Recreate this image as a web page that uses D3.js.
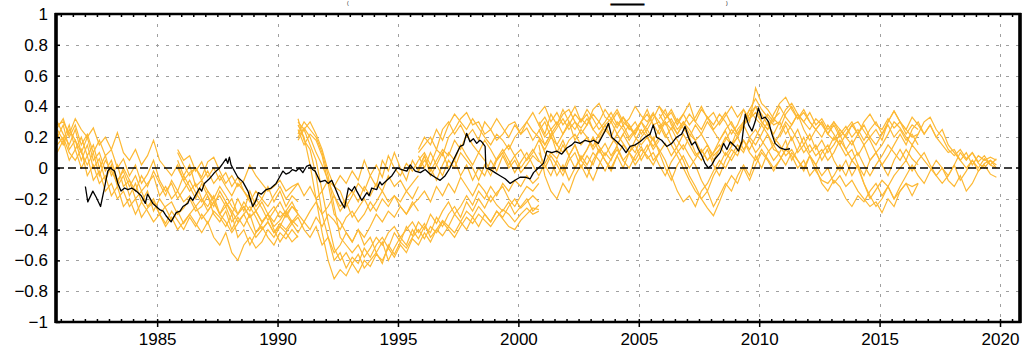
<!DOCTYPE html>
<html>
<head>
<meta charset="utf-8">
<script src="https://cdn.jsdelivr.net/npm/d3@7"></script>
<style>
  body { margin: 0; background: #fff; }
  svg { display: block; }
</style>
</head>
<body>
<svg id="chart" width="1024" height="352"></svg>
<script>
// ---------------- DATA ----------------
const xTicks = [1985, 1990, 1995, 2000, 2005, 2010, 2015, 2020];
const xTickLabels = ["1985", "1990", "1995", "2000", "2005", "2010", "2015", "2020"];
const yTicks = [-1, -0.8, -0.6, -0.4, -0.2, 0, 0.2, 0.4, 0.6, 0.8, 1];
const yTickLabels = ["\u22121", "\u22120.8", "\u22120.6", "\u22120.4", "\u22120.2", "0", "0.2", "0.4", "0.6", "0.8", "1"];

// observed index (black)
const obsTime = [1982.02,1982.12,1982.33,1982.47,1982.65,1982.81,1982.95,1983.05,1983.23,1983.37,1983.5,1983.65,1983.78,1983.95,1984.13,1984.34,1984.51,1984.6,1984.68,1984.82,1985.1,1985.25,1985.37,1985.58,1985.79,1985.95,1986.07,1986.27,1986.38,1986.48,1986.62,1986.76,1986.85,1986.96,1987.17,1987.28,1987.38,1987.59,1987.73,1987.86,1987.93,1988.0,1988.07,1988.14,1988.35,1988.56,1988.77,1988.97,1989.11,1989.2,1989.32,1989.53,1989.73,1989.94,1990.08,1990.22,1990.35,1990.49,1990.62,1990.77,1990.9,1991.05,1991.2,1991.35,1991.45,1991.56,1991.77,1991.97,1992.1,1992.25,1992.39,1992.6,1992.78,1992.94,1993.08,1993.2,1993.29,1993.5,1993.71,1993.8,1993.91,1994.12,1994.25,1994.33,1994.54,1994.75,1994.96,1995.16,1995.37,1995.51,1995.72,1995.93,1996.13,1996.34,1996.54,1996.75,1996.96,1997.16,1997.3,1997.44,1997.58,1997.72,1997.85,1997.99,1998.13,1998.27,1998.4,1998.48,1998.62,1998.65,1998.83,1999.03,1999.24,1999.45,1999.66,1999.86,2000.07,2000.28,2000.49,2000.63,2000.83,2001.04,2001.18,2001.39,2001.59,2001.8,2002.01,2002.22,2002.35,2002.56,2002.77,2002.98,2003.12,2003.32,2003.46,2003.6,2003.74,2003.88,2004.09,2004.29,2004.47,2004.64,2004.85,2005.05,2005.26,2005.47,2005.6,2005.74,2005.95,2006.16,2006.37,2006.57,2006.78,2006.92,2007.06,2007.2,2007.34,2007.48,2007.62,2007.75,2007.89,2008.03,2008.17,2008.38,2008.52,2008.66,2008.8,2009.0,2009.14,2009.28,2009.42,2009.56,2009.7,2009.83,2009.97,2010.11,2010.25,2010.39,2010.53,2010.66,2010.87,2011.08,2011.28];
const obsValue = [-0.12,-0.22,-0.15,-0.19,-0.25,-0.13,-0.02,0.0,-0.02,-0.1,-0.15,-0.13,-0.14,-0.13,-0.15,-0.18,-0.23,-0.17,-0.19,-0.23,-0.27,-0.28,-0.31,-0.35,-0.29,-0.28,-0.25,-0.23,-0.19,-0.21,-0.17,-0.13,-0.15,-0.1,-0.07,-0.05,-0.03,0.0,0.03,0.06,0.03,0.07,0.02,0.0,-0.06,-0.09,-0.15,-0.25,-0.21,-0.16,-0.17,-0.14,-0.13,-0.1,-0.06,-0.02,-0.04,-0.03,-0.01,-0.02,0.0,-0.03,0.01,0.02,-0.01,-0.02,-0.09,-0.08,-0.1,-0.08,-0.13,-0.21,-0.26,-0.13,-0.15,-0.12,-0.15,-0.21,-0.16,-0.18,-0.13,-0.14,-0.09,-0.11,-0.08,-0.05,0.0,-0.01,-0.02,0.02,-0.02,-0.03,-0.01,-0.04,-0.06,-0.08,-0.05,0.0,0.05,0.095,0.14,0.15,0.225,0.17,0.19,0.16,0.18,0.17,0.14,0.0,-0.01,-0.03,-0.05,-0.07,-0.1,-0.08,-0.06,-0.06,-0.07,-0.03,0.0,0.03,0.11,0.1,0.11,0.09,0.13,0.15,0.17,0.16,0.18,0.17,0.18,0.16,0.2,0.24,0.29,0.2,0.17,0.14,0.1,0.14,0.15,0.17,0.2,0.22,0.28,0.2,0.18,0.14,0.16,0.2,0.22,0.27,0.2,0.15,0.17,0.12,0.08,0.03,0.0,0.02,0.06,0.1,0.16,0.12,0.17,0.14,0.11,0.17,0.35,0.28,0.24,0.3,0.39,0.32,0.33,0.3,0.22,0.16,0.13,0.12,0.125];

// forecast ensembles (orange), quarterly values from each start time
const forecastStep = 0.25;
const forecastStarts = [1980.85, 1985.85, 1990.85, 1995.85, 2000.85, 2005.85, 2010.85];

const groupA = [
  [0.28,0.3,0.22,0.32,0.25,0.2,0.26,0.15,0.2,0.12,0.23,0.1,0.05,0.12,0.02,0.08,0.18,0.05,0.0,-0.05,0.02,-0.08,-0.03,0.0,-0.06,0.04,0.07,-0.02,-0.1,-0.05,-0.12,-0.08,0.02,-0.05,-0.1,-0.15,-0.12,-0.08,-0.15,-0.12,-0.1],
  [0.22,0.15,0.25,0.18,0.1,0.2,0.05,0.1,-0.02,0.05,-0.08,-0.02,-0.12,-0.05,-0.15,-0.1,-0.05,-0.18,-0.12,-0.2,-0.15,-0.22,-0.18,-0.25,-0.2,-0.28,-0.22,-0.3,-0.25,-0.35,-0.3,-0.25,-0.32,-0.28,-0.35,-0.3,-0.25,-0.32,-0.28,-0.22,-0.3],
  [0.15,0.2,0.1,0.05,0.12,-0.05,0.02,-0.1,-0.05,-0.18,-0.12,-0.25,-0.2,-0.3,-0.22,-0.28,-0.35,-0.3,-0.38,-0.32,-0.4,-0.35,-0.3,-0.36,-0.42,-0.35,-0.45,-0.5,-0.42,-0.55,-0.6,-0.5,-0.45,-0.52,-0.48,-0.4,-0.45,-0.38,-0.42,-0.48,-0.44],
  [0.25,0.18,0.28,0.12,0.2,0.08,0.15,0.0,0.08,-0.05,0.02,-0.12,-0.08,-0.2,-0.15,-0.25,-0.2,-0.3,-0.25,-0.22,-0.3,-0.26,-0.2,-0.28,-0.25,-0.18,-0.3,-0.35,-0.28,-0.4,-0.32,-0.38,-0.3,-0.42,-0.36,-0.3,-0.38,-0.34,-0.28,-0.35,-0.3],
  [0.1,0.18,0.05,0.12,0.0,0.08,-0.08,-0.02,-0.15,-0.1,-0.2,-0.15,-0.25,-0.2,-0.32,-0.26,-0.22,-0.3,-0.36,-0.28,-0.34,-0.4,-0.32,-0.38,-0.3,-0.36,-0.28,-0.32,-0.38,-0.3,-0.45,-0.4,-0.5,-0.42,-0.38,-0.45,-0.5,-0.42,-0.46,-0.4,-0.45],
  [0.3,0.22,0.15,0.25,0.1,0.02,0.1,-0.05,0.05,-0.02,-0.1,0.0,-0.08,-0.15,-0.05,-0.12,-0.02,-0.1,-0.18,-0.08,-0.15,-0.05,-0.12,-0.2,-0.1,-0.18,-0.25,-0.15,-0.22,-0.3,-0.2,-0.28,-0.15,-0.25,-0.2,-0.12,-0.22,-0.15,-0.25,-0.18,-0.22],
  [0.2,0.28,0.12,0.18,0.05,0.15,0.0,0.06,-0.08,0.02,-0.12,-0.05,-0.18,-0.1,-0.22,-0.15,-0.28,-0.2,-0.26,-0.34,-0.28,-0.36,-0.3,-0.25,-0.33,-0.28,-0.22,-0.3,-0.35,-0.42,-0.36,-0.3,-0.38,-0.45,-0.4,-0.35,-0.42,-0.36,-0.4,-0.34,-0.38],
  [0.26,0.32,0.2,0.28,0.15,0.22,0.1,0.18,0.08,0.12,0.0,0.06,-0.05,0.02,-0.1,-0.04,0.05,-0.08,-0.15,-0.1,-0.2,-0.14,-0.08,-0.16,-0.22,-0.15,-0.2,-0.12,-0.18,-0.25,-0.3,-0.22,-0.28,-0.2,-0.26,-0.34,-0.28,-0.22,-0.3,-0.25,-0.28]
];
const groupB = [
  [0.1,0.02,-0.05,0.0,-0.08,-0.02,-0.1,-0.05,-0.12,-0.18,-0.1,-0.15,-0.22,-0.15,-0.2,-0.25,-0.18,-0.12,-0.2,-0.15,-0.1,-0.18,-0.12,-0.2,-0.15,-0.08,-0.12,-0.05,-0.1,-0.02,-0.08,0.05,-0.05,0.02,-0.06,0.08,0.0,-0.05,0.03,-0.02,0.05],
  [0.0,-0.08,-0.15,-0.1,-0.2,-0.25,-0.18,-0.3,-0.22,-0.28,-0.35,-0.3,-0.25,-0.32,-0.4,-0.35,-0.42,-0.38,-0.3,-0.36,-0.32,-0.4,-0.45,-0.38,-0.5,-0.45,-0.55,-0.5,-0.42,-0.48,-0.4,-0.45,-0.38,-0.3,-0.35,-0.28,-0.32,-0.25,-0.3,-0.22,-0.28],
  [0.05,-0.05,0.02,-0.12,-0.08,-0.15,-0.22,-0.18,-0.25,-0.2,-0.3,-0.25,-0.32,-0.28,-0.22,-0.3,-0.35,-0.28,-0.32,-0.25,-0.3,-0.35,-0.28,-0.22,-0.3,-0.25,-0.18,-0.25,-0.2,-0.15,-0.22,-0.12,-0.18,-0.1,-0.15,-0.05,-0.12,-0.08,-0.15,-0.1,-0.05],
  [0.12,0.05,0.08,-0.02,0.04,-0.06,0.0,-0.08,-0.03,-0.12,-0.06,-0.15,-0.2,-0.28,-0.35,-0.3,-0.4,-0.48,-0.42,-0.36,-0.42,-0.35,-0.4,-0.32,-0.38,-0.3,-0.34,-0.4,-0.32,-0.28,-0.35,-0.3,-0.22,-0.28,-0.2,-0.25,-0.18,-0.22,-0.15,-0.2,-0.12]
];
const groupC = [
  [0.28,0.2,0.02,-0.2,-0.42,-0.6,-0.72,-0.66,-0.7,-0.62,-0.68,-0.6,-0.64,-0.56,-0.6,-0.52,-0.58,-0.5,-0.55,-0.46,-0.5,-0.42,-0.48,-0.4,-0.44,-0.38,-0.42,-0.35,-0.4,-0.32,-0.38,-0.3,-0.35,-0.28,-0.33,-0.38,-0.4,-0.34,-0.3,-0.26,-0.27],
  [0.32,0.18,0.12,-0.05,-0.3,-0.45,-0.6,-0.55,-0.65,-0.58,-0.62,-0.52,-0.58,-0.5,-0.45,-0.52,-0.42,-0.48,-0.38,-0.44,-0.35,-0.4,-0.3,-0.36,-0.28,-0.22,-0.3,-0.25,-0.18,-0.24,-0.15,-0.2,-0.12,-0.18,-0.1,-0.15,-0.08,-0.12,-0.05,-0.1,-0.06],
  [0.22,0.3,0.25,0.2,0.1,-0.05,-0.25,-0.45,-0.5,-0.55,-0.5,-0.58,-0.52,-0.45,-0.5,-0.42,-0.38,-0.45,-0.4,-0.35,-0.42,-0.36,-0.45,-0.4,-0.34,-0.38,-0.3,-0.35,-0.28,-0.32,-0.25,-0.3,-0.35,-0.28,-0.32,-0.25,-0.2,-0.26,-0.22,-0.18,-0.22],
  [0.18,0.25,0.3,0.22,0.12,-0.02,-0.12,-0.15,-0.25,-0.18,-0.1,-0.15,-0.05,-0.12,0.05,-0.02,0.1,0.0,-0.08,0.05,-0.02,0.08,-0.05,0.02,0.1,0.0,0.05,-0.05,0.02,-0.08,0.0,-0.05,0.05,-0.02,0.08,0.0,0.05,-0.03,0.02,0.08,0.04],
  [0.25,0.15,0.22,0.18,0.08,-0.1,-0.3,-0.35,-0.42,-0.48,-0.4,-0.5,-0.45,-0.55,-0.48,-0.6,-0.52,-0.45,-0.5,-0.4,-0.46,-0.38,-0.42,-0.32,-0.38,-0.3,-0.25,-0.32,-0.22,-0.28,-0.2,-0.26,-0.18,-0.24,-0.28,-0.22,-0.3,-0.25,-0.2,-0.28,-0.24],
  [0.3,0.25,0.15,0.05,-0.15,-0.35,-0.52,-0.6,-0.55,-0.62,-0.56,-0.65,-0.6,-0.55,-0.62,-0.5,-0.56,-0.48,-0.52,-0.45,-0.4,-0.46,-0.38,-0.42,-0.35,-0.4,-0.45,-0.38,-0.32,-0.36,-0.3,-0.34,-0.38,-0.32,-0.27,-0.3,-0.35,-0.3,-0.26,-0.3,-0.28],
  [0.2,0.26,0.2,0.1,0.02,-0.08,-0.18,-0.28,-0.22,-0.32,-0.26,-0.2,-0.28,-0.22,-0.15,-0.22,-0.18,-0.25,-0.3,-0.24,-0.2,-0.15,-0.22,-0.12,-0.18,-0.1,-0.16,-0.06,-0.12,-0.18,-0.1,-0.15,-0.22,-0.16,-0.12,-0.2,-0.25,-0.18,-0.12,-0.15,-0.1]
];
const groupD = [
  [0.05,0.1,0.02,0.12,0.08,0.2,0.25,0.32,0.36,0.28,0.3,0.22,0.25,0.18,0.22,0.28,0.3,0.22,0.26,0.18,0.24,0.3,0.2,0.26,0.32,0.25,0.3,0.22,0.28,0.35,0.3,0.24,0.3,0.22,0.28,0.2,0.25,0.3,0.22,0.18,0.25],
  [0.0,0.08,-0.02,0.05,0.12,0.08,0.18,0.12,0.22,0.15,0.1,0.18,0.12,0.05,0.1,0.15,0.08,0.12,0.05,0.1,0.18,0.12,0.2,0.15,0.1,0.18,0.22,0.15,0.2,0.12,0.18,0.25,0.2,0.15,0.22,0.28,0.2,0.15,0.2,0.12,0.18],
  [0.08,0.0,0.1,0.02,-0.05,0.05,0.0,0.1,0.05,0.0,-0.08,0.02,-0.05,0.05,0.1,0.02,0.08,0.0,0.06,0.12,0.05,0.0,0.08,0.02,-0.05,0.05,0.1,0.0,0.08,0.02,0.12,0.05,0.0,0.08,0.15,0.1,0.05,0.12,0.08,0.02,0.1],
  [0.1,0.15,0.2,0.12,0.25,0.3,0.22,0.28,0.2,0.25,0.18,0.3,0.25,0.32,0.26,0.2,0.28,0.22,0.3,0.36,0.28,0.33,0.25,0.3,0.22,0.28,0.35,0.3,0.38,0.32,0.25,0.3,0.36,0.28,0.33,0.25,0.3,0.22,0.28,0.35,0.3],
  [0.12,0.2,0.15,0.25,0.18,0.28,0.35,0.3,0.25,0.32,0.26,0.2,0.15,0.22,0.18,0.12,0.2,0.25,0.3,0.24,0.2,0.15,0.22,0.28,0.35,0.38,0.3,0.26,0.32,0.25,0.2,0.28,0.32,0.38,0.3,0.26,0.22,0.3,0.35,0.28,0.3],
  [-0.02,0.05,0.0,-0.08,0.02,0.1,0.05,0.15,0.08,0.02,0.1,0.05,-0.02,0.06,0.12,0.05,-0.03,0.04,0.1,0.02,-0.05,0.03,0.1,0.06,0.15,0.08,0.0,0.06,0.12,0.2,0.14,0.08,0.15,0.22,0.16,0.1,0.18,0.25,0.2,0.14,0.2]
];
const groupE = [
  [0.3,0.22,0.35,0.28,0.38,0.3,0.25,0.32,0.28,0.38,0.42,0.33,0.3,0.36,0.28,0.32,0.4,0.34,0.3,0.36,0.26,0.32,0.38,0.3,0.35,0.28,0.33,0.4,0.32,0.36,0.28,0.34,0.4,0.33,0.38,0.3,0.52,0.42,0.38,0.32,0.36],
  [0.2,0.1,0.05,-0.05,0.02,-0.08,0.0,0.08,0.02,0.1,0.05,-0.02,0.06,0.12,0.05,0.0,0.08,0.14,0.06,0.1,0.02,-0.05,0.04,0.1,0.15,0.08,0.02,-0.08,-0.15,-0.05,0.02,0.1,0.05,0.12,0.18,0.1,0.05,0.12,0.06,0.0,0.05],
  [0.15,-0.05,-0.15,-0.2,-0.1,-0.16,-0.05,0.02,-0.06,0.05,0.12,0.05,-0.02,0.08,0.0,0.1,0.15,0.05,0.12,0.2,0.1,0.16,0.08,0.14,0.22,0.15,0.08,0.12,0.05,0.1,0.18,0.24,0.15,0.2,0.28,0.2,0.15,0.22,0.3,0.2,0.15],
  [0.28,0.2,0.25,0.15,0.22,0.3,0.18,0.25,0.2,0.14,0.22,0.28,0.2,0.3,0.25,0.18,0.24,0.3,0.38,0.28,0.22,0.3,0.25,0.32,0.26,0.2,0.28,0.22,0.3,0.24,0.18,0.25,0.3,0.22,0.28,0.35,0.4,0.3,0.25,0.32,0.28],
  [0.25,0.15,0.22,0.1,0.18,0.08,0.15,0.05,0.12,0.2,0.1,0.16,0.08,0.14,0.05,0.1,0.02,0.08,0.15,0.05,0.1,0.0,-0.08,0.02,0.08,0.0,0.06,0.12,0.05,0.1,0.15,0.08,0.14,0.2,0.12,0.18,0.1,0.15,0.22,0.12,0.1],
  [0.35,0.4,0.3,0.36,0.28,0.33,0.4,0.3,0.35,0.25,0.3,0.38,0.32,0.26,0.33,0.28,0.22,0.3,0.25,0.32,0.4,0.35,0.3,0.22,0.28,0.35,0.3,0.38,0.33,0.25,0.3,0.36,0.28,0.22,0.3,0.38,0.45,0.38,0.33,0.28,0.3],
  [0.1,0.02,-0.05,0.05,-0.02,0.08,0.15,0.05,0.0,-0.08,0.02,0.1,0.05,0.15,0.22,0.15,0.1,0.2,0.25,0.18,0.12,0.05,-0.05,-0.15,-0.22,-0.18,-0.25,-0.15,-0.1,-0.02,0.05,0.0,0.08,0.15,0.1,0.2,0.25,0.18,0.12,0.05,0.1]
];
const groupF = [
  [0.3,0.22,0.15,0.08,0.0,-0.08,-0.15,-0.2,-0.26,-0.31,-0.22,-0.12,-0.05,-0.1,0.0,-0.08,0.02,0.1,0.05,-0.02,0.05,0.12,0.08,0.0,0.05,-0.05,0.0,-0.1,-0.15,-0.08,-0.12,-0.2,-0.25,-0.18,-0.22,-0.15,-0.1,-0.18,-0.12,-0.2,-0.15,-0.1,-0.12,-0.1],
  [0.25,0.3,0.2,0.12,0.05,-0.05,-0.12,-0.2,-0.15,-0.25,-0.18,-0.1,-0.15,-0.05,0.02,-0.05,0.08,0.0,0.1,0.15,0.08,0.02,0.1,0.05,-0.02,0.08,0.02,-0.05,0.0,-0.1,-0.05,-0.12,-0.08,-0.15,-0.2,-0.25,-0.22,-0.29,-0.2,-0.25,-0.15,-0.1,-0.18,-0.1],
  [0.35,0.28,0.32,0.25,0.3,0.22,0.18,0.1,0.15,0.05,0.12,0.2,0.15,0.25,0.3,0.38,0.32,0.28,0.35,0.3,0.4,0.33,0.28,0.35,0.3,0.25,0.32,0.28,0.22,0.3,0.25,0.2,0.28,0.22,0.3,0.35,0.28,0.25,0.32,0.26,0.3,0.22,0.28,0.25],
  [0.32,0.38,0.28,0.22,0.3,0.25,0.18,0.22,0.15,0.08,0.12,0.18,0.25,0.2,0.28,0.32,0.36,0.3,0.25,0.35,0.42,0.46,0.38,0.32,0.36,0.3,0.25,0.3,0.22,0.18,0.25,0.2,0.15,0.22,0.28,0.2,0.15,0.22,0.3,0.37,0.3,0.25,0.2,0.22],
  [0.4,0.32,0.36,0.28,0.35,0.42,0.3,0.25,0.33,0.28,0.35,0.3,0.22,0.28,0.38,0.32,0.4,0.35,0.28,0.22,0.3,0.38,0.42,0.35,0.3,0.36,0.28,0.32,0.25,0.3,0.22,0.27,0.2,0.25,0.18,0.25,0.3,0.22,0.28,0.2,0.25,0.18,0.22,0.15],
  [0.28,0.2,0.26,0.18,0.12,0.2,0.1,0.05,0.12,0.02,-0.05,0.05,0.12,0.08,0.18,0.12,0.2,0.28,0.22,0.15,0.22,0.3,0.25,0.18,0.1,0.15,0.08,0.12,0.05,0.1,0.18,0.12,0.05,0.1,0.02,-0.05,0.02,0.08,0.15,0.1,0.05,0.12,0.06,0.02]
];
const groupG = [
  [0.25,0.35,0.4,0.32,0.38,0.3,0.25,0.3,0.22,0.28,0.2,0.25,0.3,0.22,0.15,0.2,0.25,0.18,0.3,0.37,0.3,0.25,0.33,0.28,0.22,0.28,0.2,0.15,0.1,0.12,0.05,0.1,0.02,0.08,0.05,0.07,0.05],
  [0.15,0.08,0.12,0.05,0.0,0.08,-0.02,-0.08,-0.1,-0.05,0.02,-0.05,0.05,0.0,-0.1,-0.18,-0.25,-0.2,-0.12,-0.05,0.0,0.05,-0.02,0.05,0.1,0.02,-0.05,0.0,-0.08,-0.12,-0.05,-0.15,-0.1,-0.02,0.02,-0.04,-0.06],
  [0.2,0.28,0.18,0.25,0.15,0.22,0.12,0.18,0.1,0.15,0.22,0.12,0.18,0.08,0.15,0.05,0.1,0.02,0.08,0.15,0.22,0.15,0.25,0.3,0.22,0.28,0.2,0.25,0.15,0.1,0.05,0.0,0.05,-0.02,0.03,0.05,0.0],
  [0.1,0.18,0.05,0.12,0.2,0.1,0.15,0.05,0.12,0.2,0.15,0.08,0.12,0.02,-0.05,0.05,0.1,0.02,-0.05,0.05,0.12,0.05,0.15,0.1,0.05,0.0,-0.05,-0.1,-0.05,0.02,0.1,0.05,0.1,0.03,0.0,0.05,0.02],
  [0.3,0.22,0.28,0.35,0.25,0.18,0.25,0.2,0.28,0.22,0.15,0.22,0.28,0.3,0.24,0.18,0.1,0.15,0.22,0.3,0.26,0.2,0.15,0.22,0.3,0.33,0.25,0.2,0.12,0.08,0.12,0.06,0.1,0.04,0.08,0.02,0.06],
  [0.05,0.12,0.2,0.1,0.15,0.08,0.02,0.1,0.15,0.05,-0.02,0.05,-0.05,0.02,-0.1,-0.2,-0.14,-0.08,-0.12,-0.2,-0.12,-0.05,0.02,-0.05,-0.1,-0.02,0.05,0.0,-0.05,0.02,-0.08,-0.02,0.05,0.0,0.06,0.02,0.0]
];
const forecastGroups = [groupA, groupB, groupC, groupD, groupE, groupF, groupG];

// visible bottom fragments of the (clipped) title
const titleFragments = ["(", "_", ")"];

// ---------------- DRAW ----------------
const svg = d3.select("#chart");
const L = 56, R = 1020, T = 14, B = 322;
const x = d3.scaleLinear().domain([1980.8, 2020.83]).range([L, R]);
const y = d3.scaleLinear().domain([-1, 1]).range([B, T]);
const FONT = "'Liberation Sans', Arial, Helvetica, sans-serif";

svg.append("rect").attr("width", 1024).attr("height", 352).attr("fill", "#fff");

// title fragments (small, kept inside the picture)
const tf = svg.append("g").attr("font-family", FONT).attr("fill", "#000");
tf.append("text").attr("x", 347).attr("y", 5).attr("font-size", 5).text(titleFragments[0]);
tf.append("text").attr("x", 617).attr("y", 4).attr("font-size", 5)
  .attr("textLength", 21).attr("lengthAdjust", "spacingAndGlyphs")
  .attr("stroke", "#000").attr("stroke-width", 1.6).text(titleFragments[1]);
tf.append("text").attr("x", 726).attr("y", 5).attr("font-size", 5).text(titleFragments[2]);

svg.append("clipPath").attr("id", "plotclip")
  .append("rect").attr("x", L).attr("y", T).attr("width", R - L).attr("height", B - T);

// grid
const grid = svg.append("g").attr("stroke", "#a0a0a0").attr("stroke-width", 1).attr("stroke-dasharray", "3,7");
grid.selectAll("line.h").data(yTicks.filter(v => v > -1 && v < 1 && Math.abs(v) > 1e-9))
  .join("line").attr("class", "h")
  .attr("x1", L).attr("x2", R)
  .attr("y1", d => Math.round(y(d)) + 0.5).attr("y2", d => Math.round(y(d)) + 0.5);
grid.selectAll("line.v").data(xTicks)
  .join("line").attr("class", "v")
  .attr("x1", d => Math.round(x(d)) + 0.5).attr("x2", d => Math.round(x(d)) + 0.5)
  .attr("y1", T).attr("y2", B);

// forecast lines
const plot = svg.append("g").attr("clip-path", "url(#plotclip)");
const line = d3.line().x(d => x(d[0])).y(d => y(d[1]));
const fcSeries = [];
forecastGroups.forEach((grp, gi) => {
  grp.forEach(vals => {
    fcSeries.push(vals.map((v, i) => [forecastStarts[gi] + i * forecastStep, v]));
  });
});
plot.append("g").selectAll("path").data(fcSeries).join("path")
  .attr("d", line)
  .attr("fill", "none")
  .attr("stroke", "#fdb934")
  .attr("stroke-width", 1.2)
  .attr("stroke-linejoin", "miter");

// zero line
plot.append("line")
  .attr("x1", L).attr("x2", R)
  .attr("y1", y(0)).attr("y2", y(0))
  .attr("stroke", "#000").attr("stroke-width", 1.6).attr("stroke-dasharray", "8,4");

// observations
plot.append("path")
  .datum(obsTime.map((t, i) => [t, obsValue[i]]))
  .attr("d", line)
  .attr("fill", "none")
  .attr("stroke", "#000")
  .attr("stroke-width", 1.3)
  .attr("stroke-linejoin", "round");

// minor ticks (half years), inward on top and bottom
const minorTicks = d3.range(1981, 2021, 0.5);
svg.append("g").attr("transform", `translate(0,${B})`)
  .call(d3.axisBottom(x).tickValues(minorTicks).tickSize(-3).tickFormat(""))
  .call(g => g.select(".domain").remove())
  .selectAll("line").attr("stroke-width", 1.5);
svg.append("g").attr("transform", `translate(0,${T})`)
  .call(d3.axisTop(x).tickValues(minorTicks).tickSize(-3).tickFormat(""))
  .call(g => g.select(".domain").remove())
  .selectAll("line").attr("stroke-width", 1.5);

// x axis
const xa = svg.append("g").attr("transform", `translate(0,${B})`)
  .call(d3.axisBottom(x).tickValues(xTicks).tickFormat((d, i) => xTickLabels[i]).tickSize(5).tickPadding(6));
xa.select(".domain").remove();
xa.attr("font-family", FONT).attr("font-size", 17);
xa.selectAll("line").attr("stroke-width", 1.5);
xa.selectAll("text").attr("fill", "#000");

// y axis
const ya = svg.append("g").attr("transform", `translate(${L},0)`)
  .call(d3.axisLeft(y).tickValues(yTicks).tickFormat((d, i) => yTickLabels[i]).tickSize(-4).tickPadding(8));
ya.select(".domain").remove();
ya.attr("font-family", FONT).attr("font-size", 17);
ya.selectAll("line").attr("stroke-width", 1.5);
ya.selectAll("text").attr("fill", "#000");

// frame
svg.append("rect").attr("x", L).attr("y", T).attr("width", R - L).attr("height", B - T)
  .attr("fill", "none").attr("stroke", "#000").attr("stroke-width", 2.5);
svg.append("line").attr("x1", L).attr("x2", L).attr("y1", T - 1).attr("y2", B + 1)
  .attr("stroke", "#000").attr("stroke-width", 3.5);
svg.append("line").attr("x1", R).attr("x2", R).attr("y1", T - 1).attr("y2", B + 1)
  .attr("stroke", "#000").attr("stroke-width", 3.5);
</script>
</body>
</html>
